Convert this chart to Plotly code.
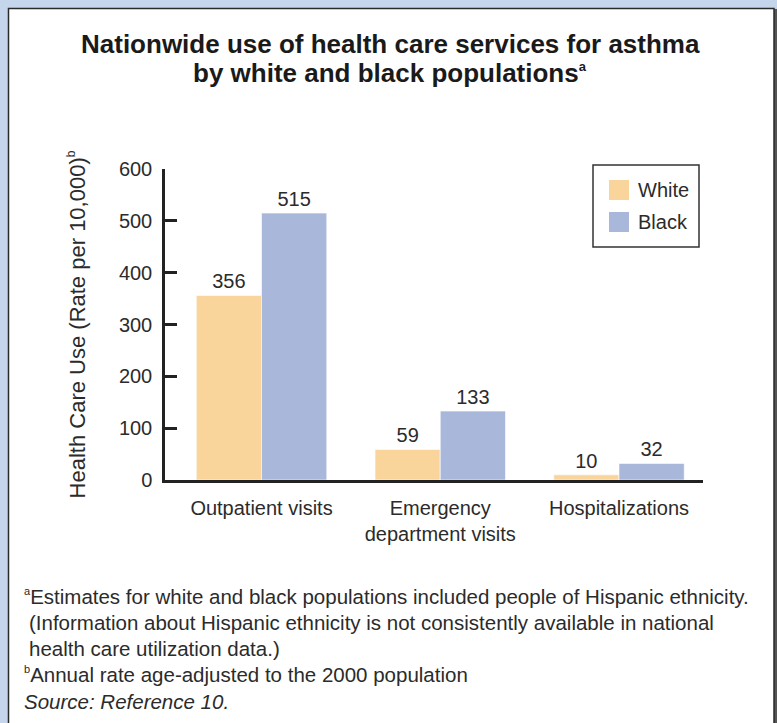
import plotly.graph_objects as go

# Health care use for asthma, rate per 10,000
categories = ["Outpatient visits", "Emergency<br>department visits", "Hospitalizations"]
white_rates = [356, 59, 10]
black_rates = [515, 133, 32]
series_names = ["White", "Black"]
y_ticks = [0, 100, 200, 300, 400, 500, 600]

W, H = 777, 723
PL, PR, PT, PB = 165, 703, 169, 480  # plot area in pixels

def xp(px):
    return (px - PL) / (PR - PL)

def yp(py):
    return (PB - py) / (PB - PT)

def small_sup(ch, size):
    return f"<sup><span style='font-size:{size}px'>{ch}</span></sup>"

WHITE_C = "#FAD59B"
BLACK_C = "#A8B7DA"
TEXT_C = "#2b2b2b"
FONT = "Liberation Sans"

fig = go.Figure()
for name, vals, col in [(series_names[0], white_rates, WHITE_C),
                        (series_names[1], black_rates, BLACK_C)]:
    fig.add_trace(go.Bar(
        x=list(range(len(categories))), y=vals, name=name,
        marker=dict(color=col, line=dict(color="white", width=0.6)),
        text=vals, texttemplate="%{y}", textposition="outside",
        textfont=dict(size=20, color=TEXT_C, family=FONT),
        cliponaxis=False, showlegend=False,
    ))

shapes = [
    # white panel with dark frame and a gray edge on the right
    dict(type="rect", xref="paper", yref="paper", layer="below",
         x0=xp(773.5), x1=xp(777), y0=yp(9), y1=yp(740),
         fillcolor="#555555", line=dict(width=0)),
    dict(type="rect", xref="paper", yref="paper", layer="below",
         x0=xp(8.5), x1=xp(774), y0=yp(8.5), y1=yp(740),
         fillcolor="white", line=dict(color="#2a2a2a", width=1.5)),
    # legend box and swatches
    dict(type="rect", xref="paper", yref="paper",
         x0=xp(593), x1=xp(699), y0=yp(165), y1=yp(247),
         fillcolor="rgba(0,0,0,0)", line=dict(color="#333333", width=1.5)),
    dict(type="rect", xref="paper", yref="paper",
         x0=xp(609), x1=xp(629), y0=yp(180), y1=yp(200),
         fillcolor=WHITE_C, line=dict(width=0)),
    dict(type="rect", xref="paper", yref="paper",
         x0=xp(609), x1=xp(629), y0=yp(212), y1=yp(232),
         fillcolor=BLACK_C, line=dict(width=0)),
]

title_font = dict(size=26, color="#1a1a1a", family=FONT, weight=600)
annotations = [
    dict(text="Nationwide use of health care services for asthma",
         xref="paper", yref="paper", x=xp(390), y=yp(44), xanchor="center",
         yanchor="middle", showarrow=False, font=title_font),
    dict(text="by white and black populations" + small_sup("a", 13),
         xref="paper", yref="paper", x=xp(390), y=yp(72.5), xanchor="center",
         yanchor="middle", showarrow=False, font=title_font),
    dict(text=series_names[0], xref="paper", yref="paper", x=xp(636), y=yp(190),
         xanchor="left", yanchor="middle", showarrow=False,
         font=dict(size=20, color=TEXT_C, family=FONT)),
    dict(text=series_names[1], xref="paper", yref="paper", x=xp(636), y=yp(222),
         xanchor="left", yanchor="middle", showarrow=False,
         font=dict(size=20, color=TEXT_C, family=FONT)),
]

notes = [
    (22, 596, small_sup("a", 11) + "Estimates for white and black populations included people of Hispanic ethnicity."),
    (27, 622, "(Information about Hispanic ethnicity is not consistently available in national"),
    (27, 648, "health care utilization data.)"),
    (22, 674, small_sup("b", 11) + "Annual rate age-adjusted to the 2000 population"),
    (22, 701, "<i>Source: Reference 10.</i>"),
]
for x, y, t in notes:
    annotations.append(dict(text=t, xref="paper", yref="paper", x=xp(x), y=yp(y),
                            xanchor="left", yanchor="middle", showarrow=False,
                            font=dict(size=20.5, color=TEXT_C, family=FONT)))

fig.update_layout(
    width=W, height=H,
    margin=dict(l=PL, r=W - PR, t=PT, b=H - PB, pad=0),
    paper_bgcolor="#C5D5EC", plot_bgcolor="rgba(0,0,0,0)",
    barmode="group", bargap=0.27, bargroupgap=0,
    font=dict(family=FONT, color=TEXT_C, size=20),
    shapes=shapes, annotations=annotations,
    xaxis=dict(range=[-0.54, 2.47], tickmode="array",
               tickvals=list(range(len(categories))), ticktext=categories,
               showline=True, linecolor="#222222", linewidth=2.5,
               ticks="", showgrid=False, zeroline=False,
               tickfont=dict(size=20, color=TEXT_C), ticklabelstandoff=8),
    yaxis=dict(range=[0, 600], tickmode="array", tickvals=y_ticks,
               showline=True, linecolor="#222222", linewidth=2.5,
               ticks="inside", ticklen=12, tickwidth=2.5, tickcolor="#222222",
               showgrid=False, zeroline=False,
               tickfont=dict(size=20, color=TEXT_C), ticklabelstandoff=6,
               title=dict(text="Health Care Use (Rate per 10,000)" + small_sup("b", 12),
                          font=dict(size=22, color=TEXT_C), standoff=28)),
)

fig.write_html("out.html")
